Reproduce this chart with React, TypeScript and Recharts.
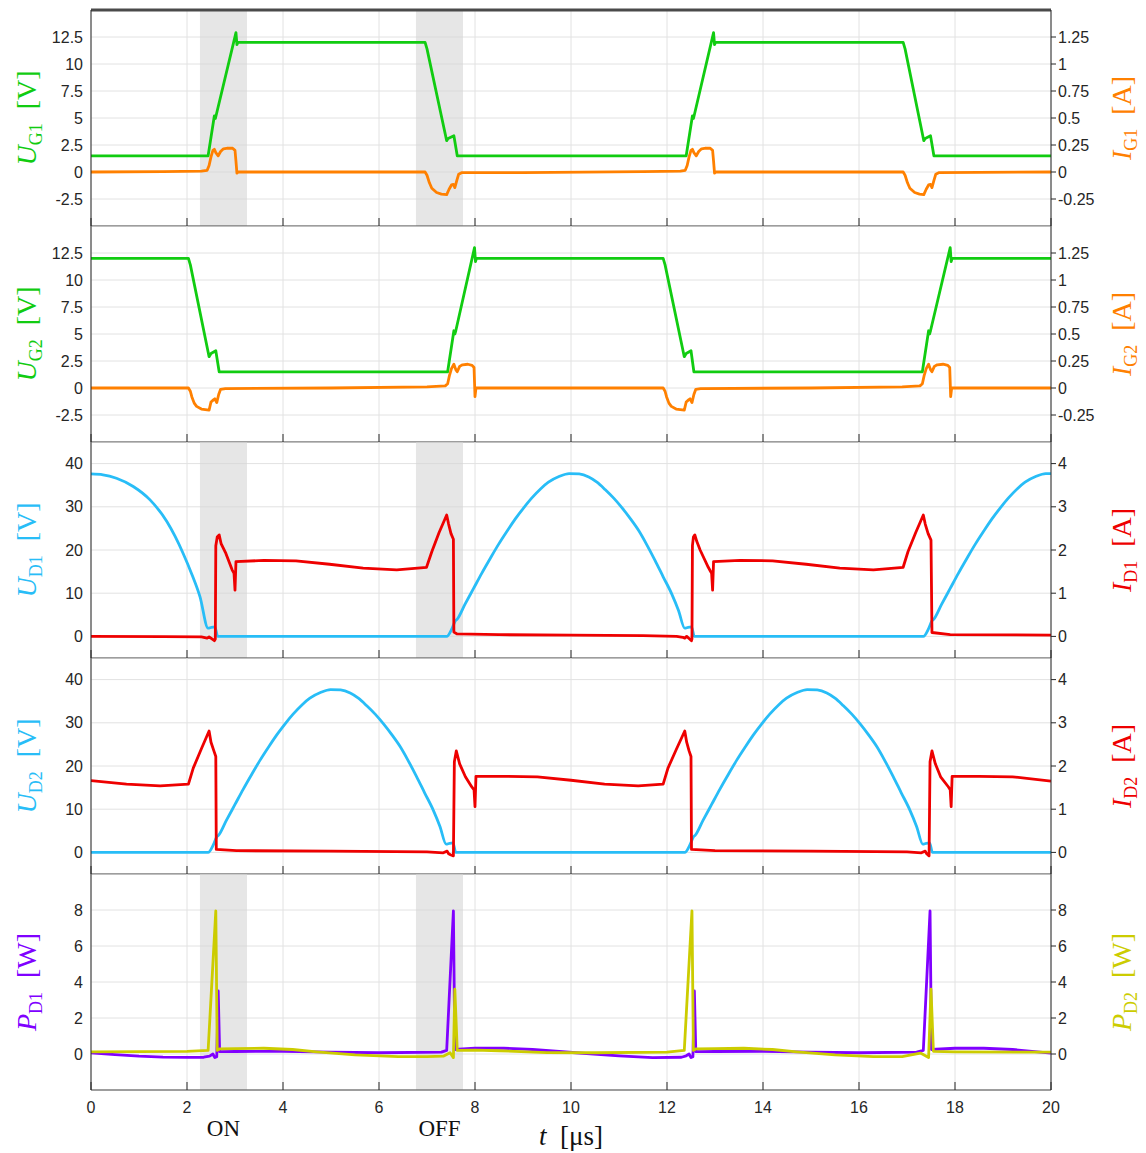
import React from 'react';
import { LineChart, Line, XAxis, YAxis, CartesianGrid, ReferenceArea, ReferenceLine } from 'recharts';

type Pt = [number, number];

// ---------- axes / ticks ----------
const T_TICKS = [0, 2, 4, 6, 8, 10, 12, 14, 16, 18, 20];
const UG_TICKS = [-2.5, 0, 2.5, 5, 7.5, 10, 12.5];
const IG_TICKS = [-0.25, 0, 0.25, 0.5, 0.75, 1, 1.25];
const UD_TICKS = [0, 10, 20, 30, 40];
const ID_TICKS = [0, 1, 2, 3, 4];
const P_TICKS = [0, 2, 4, 6, 8];
const SHADE_ON: Pt = [2.27, 3.25];
const SHADE_OFF: Pt = [6.77, 7.75];

// ---------- panel 1: gate 1 ----------
const UG1: Pt[] = [
  [0, 1.5], [2.44, 1.5], [2.57, 5.2], [2.59, 4.95], [2.61, 5.3], [3.02, 12.9], [3.04, 11.8], [3.06, 12.0],
  [6.96, 12.0], [7.0, 11.4], [7.41, 2.9], [7.44, 3.1], [7.56, 3.35], [7.63, 1.5],
  [12.4, 1.5], [12.53, 5.2], [12.55, 4.95], [12.57, 5.3], [12.97, 12.9], [12.99, 11.8], [13.01, 12.0],
  [16.92, 12.0], [16.96, 11.4], [17.35, 2.9], [17.38, 3.1], [17.49, 3.35], [17.56, 1.5], [20, 1.5],
];
const IG1: Pt[] = [
  [0, 0], [1.5, 0.004], [2.3, 0.008], [2.42, 0.016], [2.46, 0.06], [2.5, 0.14], [2.54, 0.2], [2.57, 0.21],
  [2.6, 0.18], [2.65, 0.15], [2.7, 0.19], [2.76, 0.215], [2.85, 0.222], [2.95, 0.22], [3.0, 0.2], [3.02, 0.1],
  [3.04, -0.01], [3.07, 0], [6.96, 0], [7.0, -0.03], [7.05, -0.1], [7.1, -0.15], [7.2, -0.19], [7.3, -0.205],
  [7.41, -0.21], [7.46, -0.16], [7.51, -0.12], [7.55, -0.115], [7.58, -0.145], [7.62, -0.08], [7.66, -0.02],
  [7.72, -0.006], [9, -0.005], [11.5, 0.004], [12.28, 0.008], [12.38, 0.016], [12.42, 0.06], [12.46, 0.14],
  [12.5, 0.2], [12.53, 0.21], [12.56, 0.18], [12.61, 0.15], [12.66, 0.19], [12.72, 0.215], [12.81, 0.222],
  [12.9, 0.22], [12.95, 0.2], [12.97, 0.1], [12.99, -0.01], [13.02, 0], [16.92, 0], [16.96, -0.03],
  [17.01, -0.1], [17.06, -0.15], [17.16, -0.19], [17.26, -0.205], [17.35, -0.21], [17.4, -0.16],
  [17.45, -0.12], [17.49, -0.115], [17.52, -0.145], [17.56, -0.08], [17.6, -0.02], [17.66, -0.006], [20, 0],
];

// ---------- panel 2: gate 2 ----------
const UG2: Pt[] = [
  [0, 12], [2.03, 12], [2.07, 11.4], [2.46, 2.9], [2.5, 3.2], [2.6, 3.45], [2.67, 1.5], [7.43, 1.5],
  [7.56, 5.3], [7.58, 5.0], [7.6, 5.3], [7.99, 13.0], [8.01, 11.7], [8.03, 12], [11.92, 12], [11.96, 11.4],
  [12.36, 2.9], [12.4, 3.2], [12.5, 3.45], [12.56, 1.5], [17.32, 1.5], [17.45, 5.3], [17.47, 5.0],
  [17.49, 5.3], [17.9, 13.0], [17.92, 11.7], [17.94, 12], [20, 12],
];
const IG2: Pt[] = [
  [0, 0], [2.03, 0], [2.07, -0.03], [2.1, -0.08], [2.15, -0.14], [2.2, -0.17], [2.3, -0.195], [2.46, -0.205],
  [2.5, -0.13], [2.55, -0.11], [2.58, -0.1], [2.62, -0.135], [2.66, -0.06], [2.7, -0.012], [2.8, -0.005],
  [5, 0.0], [7.0, 0.01], [7.38, 0.02], [7.43, 0.04], [7.47, 0.12], [7.51, 0.18], [7.56, 0.22], [7.6, 0.17],
  [7.63, 0.15], [7.68, 0.2], [7.74, 0.215], [7.85, 0.22], [7.94, 0.21], [7.98, 0.19], [8.0, -0.08], [8.02, 0],
  [11.92, 0], [11.96, -0.03], [11.99, -0.08], [12.04, -0.14], [12.09, -0.17], [12.19, -0.195], [12.36, -0.205],
  [12.4, -0.13], [12.45, -0.11], [12.48, -0.1], [12.52, -0.135], [12.56, -0.06], [12.6, -0.012], [12.7, -0.005],
  [15, 0.0], [16.9, 0.01], [17.27, 0.02], [17.32, 0.04], [17.36, 0.12], [17.4, 0.18], [17.45, 0.22],
  [17.49, 0.17], [17.52, 0.15], [17.57, 0.2], [17.63, 0.215], [17.75, 0.22], [17.85, 0.21], [17.89, 0.19],
  [17.91, -0.08], [17.93, 0], [20, 0],
];

// ---------- panel 3: diode 1 ----------
const UD1: Pt[] = [
  [0, 37.6], [0.25, 37.4], [0.53, 36.6], [0.88, 34.7], [1.23, 31.6], [1.58, 26.6], [1.75, 23.2], [1.92, 19.2],
  [2.1, 14.4], [2.27, 9.2], [2.44, 1.9], [2.51, 2.1], [2.58, 2.2], [2.64, 0], [7.41, 0], [7.52, 1.8],
  [7.59, 3.6], [7.63, 4.0], [7.79, 7.4], [7.97, 11.1], [8.14, 14.6], [8.32, 18.1], [8.49, 21.3], [8.67, 24.4],
  [8.84, 27.2], [9.01, 29.7], [9.18, 32.0], [9.37, 34.2], [9.53, 35.7], [9.75, 37.0], [9.96, 37.7],
  [10.17, 37.6], [10.37, 36.9], [10.54, 35.7], [10.71, 34.0], [10.89, 32.0], [11.06, 29.8], [11.24, 27.2],
  [11.41, 24.5], [11.58, 21.2], [11.75, 17.6], [11.92, 13.8], [12.1, 9.8], [12.24, 6.0], [12.37, 1.9],
  [12.44, 2.1], [12.51, 2.2], [12.57, 0], [17.34, 0], [17.45, 1.8], [17.52, 3.6], [17.56, 4.0], [17.72, 7.4],
  [17.9, 11.1], [18.07, 14.6], [18.25, 18.1], [18.42, 21.3], [18.6, 24.4], [18.77, 27.2], [18.94, 29.7],
  [19.11, 32.0], [19.3, 34.2], [19.46, 35.7], [19.68, 37.0], [19.89, 37.7], [20, 37.7],
];
const ID1: Pt[] = [
  [0, 0], [1.5, -0.005], [2.3, -0.01], [2.42, -0.04], [2.46, -0.01], [2.52, -0.06], [2.57, -0.1], [2.59, -0.06],
  [2.6, 2.1], [2.63, 2.3], [2.67, 2.35], [2.71, 2.15], [2.81, 1.92], [2.94, 1.54], [2.98, 1.46], [3.0, 1.07],
  [3.02, 1.73], [3.6, 1.76], [4.27, 1.75], [4.97, 1.67], [5.67, 1.58], [6.37, 1.54], [6.99, 1.6], [7.1, 1.96],
  [7.25, 2.4], [7.41, 2.81], [7.45, 2.6], [7.5, 2.38], [7.55, 2.25], [7.56, 0.1], [7.62, 0.06], [8.5, 0.04],
  [10, 0.03], [11.5, 0.02], [12.2, 0.0], [12.33, -0.02], [12.37, -0.04], [12.41, 0.0], [12.46, -0.05],
  [12.51, -0.1], [12.52, -0.06], [12.53, 2.1], [12.55, 2.3], [12.58, 2.35], [12.62, 2.2], [12.69, 2.0],
  [12.86, 1.6], [12.9, 1.52], [12.93, 1.46], [12.95, 1.07], [12.97, 1.73], [13.52, 1.76], [14.2, 1.75],
  [14.9, 1.67], [15.6, 1.58], [16.3, 1.54], [16.92, 1.6], [17.02, 1.96], [17.18, 2.4], [17.34, 2.81],
  [17.38, 2.6], [17.44, 2.38], [17.5, 2.23], [17.52, 0.09], [17.9, 0.04], [20, 0.03],
];

// ---------- panel 4: diode 2 ----------
const UD2: Pt[] = [
  [0, 0], [2.44, 0], [2.55, 1.8], [2.62, 3.6], [2.66, 4.0], [2.82, 7.4], [3.0, 11.1], [3.17, 14.6], [3.35, 18.1],
  [3.52, 21.3], [3.7, 24.4], [3.87, 27.2], [4.04, 29.7], [4.21, 32.0], [4.4, 34.2], [4.56, 35.7], [4.78, 37.0],
  [4.99, 37.7], [5.2, 37.6], [5.4, 36.9], [5.57, 35.7], [5.74, 34.0], [5.92, 32.0], [6.09, 29.8], [6.27, 27.2],
  [6.44, 24.5], [6.61, 21.2], [6.78, 17.6], [6.95, 13.8], [7.13, 9.8], [7.27, 6.0], [7.4, 1.9], [7.47, 2.1],
  [7.54, 2.2], [7.6, 0], [12.37, 0], [12.48, 1.8], [12.55, 3.6], [12.59, 4.0], [12.75, 7.4], [12.93, 11.1],
  [13.1, 14.6], [13.28, 18.1], [13.45, 21.3], [13.63, 24.4], [13.8, 27.2], [13.97, 29.7], [14.14, 32.0],
  [14.33, 34.2], [14.49, 35.7], [14.71, 37.0], [14.92, 37.7], [15.13, 37.6], [15.33, 36.9], [15.5, 35.7],
  [15.67, 34.0], [15.85, 32.0], [16.02, 29.8], [16.2, 27.2], [16.37, 24.5], [16.54, 21.2], [16.71, 17.6],
  [16.88, 13.8], [17.06, 9.8], [17.2, 6.0], [17.33, 1.9], [17.4, 2.1], [17.47, 2.2], [17.53, 0], [20, 0],
];
const ID2: Pt[] = [
  [0, 1.66], [0.74, 1.58], [1.44, 1.54], [2.03, 1.58], [2.13, 1.95], [2.3, 2.4], [2.46, 2.81], [2.5, 2.55],
  [2.56, 2.35], [2.6, 2.22], [2.61, 0.07], [3.03, 0.04], [5, 0.03], [7.0, 0.01], [7.34, -0.01], [7.42, 0.03],
  [7.45, -0.03], [7.5, -0.06], [7.55, -0.08], [7.57, 2.1], [7.61, 2.35], [7.68, 2.05], [7.8, 1.75],
  [7.93, 1.52], [7.98, 1.45], [8.0, 1.06], [8.02, 1.76], [8.6, 1.76], [9.3, 1.75], [10.0, 1.67], [10.7, 1.58],
  [11.4, 1.54], [11.92, 1.58], [12.02, 1.95], [12.2, 2.4], [12.37, 2.81], [12.41, 2.55], [12.46, 2.35],
  [12.5, 2.22], [12.51, 0.07], [13, 0.04], [15, 0.03], [17.0, 0.01], [17.3, -0.01], [17.38, 0.03],
  [17.41, -0.03], [17.46, -0.08], [17.48, 2.1], [17.52, 2.35], [17.59, 2.05], [17.7, 1.75], [17.86, 1.52],
  [17.9, 1.45], [17.92, 1.06], [17.94, 1.76], [18.5, 1.76], [19.2, 1.75], [20, 1.65],
];

// ---------- panel 5: losses ----------
const PD1: Pt[] = [
  [0, 0.07], [0.5, -0.03], [1.0, -0.12], [1.5, -0.17], [2.0, -0.19], [2.35, -0.18], [2.47, -0.12], [2.54, 0.0],
  [2.58, -0.2], [2.62, -0.15], [2.65, 3.5], [2.68, 0.13], [3.0, 0.14], [4.0, 0.15], [5.0, 0.1], [6.0, 0.07],
  [7.3, 0.1], [7.41, 0.2], [7.55, 7.95], [7.58, 0.25], [8.0, 0.32], [8.6, 0.32], [9.2, 0.25], [10.1, 0.07],
  [11.0, -0.1], [11.7, -0.2], [12.3, -0.18], [12.4, -0.1], [12.46, 0.0], [12.5, -0.2], [12.54, -0.15],
  [12.57, 3.5], [12.6, 0.13], [13, 0.14], [14, 0.15], [15, 0.1], [16, 0.07], [17.2, 0.1], [17.34, 0.2],
  [17.48, 7.95], [17.51, 0.25], [18, 0.32], [18.6, 0.32], [19.2, 0.25], [20, 0.05],
];
const PD2: Pt[] = [
  [0, 0.12], [1.0, 0.13], [2.0, 0.15], [2.44, 0.2], [2.6, 7.95], [2.63, 0.2], [2.68, 0.28], [3.0, 0.3],
  [3.6, 0.32], [4.2, 0.25], [4.7, 0.12], [5.5, -0.05], [6.4, -0.15], [7.0, -0.15], [7.34, -0.12], [7.48, 0.07],
  [7.55, -0.2], [7.58, 3.6], [7.63, 0.2], [8.0, 0.22], [8.5, 0.18], [9.5, 0.08], [10.5, 0.07], [12.0, 0.1],
  [12.36, 0.2], [12.52, 7.95], [12.55, 0.2], [12.6, 0.28], [13, 0.3], [13.6, 0.32], [14.2, 0.25], [14.7, 0.12],
  [15.5, -0.05], [16.3, -0.15], [16.9, -0.15], [17.28, 0.05], [17.45, -0.2], [17.5, 3.6], [17.55, 0.15],
  [18, 0.12], [20, 0.1],
];

// ---------- styling ----------
const SANS = "'Liberation Sans', Arial, Helvetica, sans-serif";
const SERIF = "'Liberation Serif', 'Times New Roman', serif";
const GREEN = '#11cc11';
const ORANGE = '#ff8000';
const BLUE = '#28bdf7';
const RED = '#ee0000';
const PURPLE = '#8000ff';
const YELLOW = '#cccc00';
const INK = '#262626';
const GRID = '#e2e2e2';
const PLOT_H = 216;
const W = 1146;

const toRows = (pts: Pt[]) => pts.map(([t, v]) => ({ t, v }));

interface Title { sym: string; sub: string; unit: string; color: string }
interface Series { data: Pt[]; color: string; axis: 'L' | 'R'; name: string; smooth?: boolean }
interface PanelProps {
  top: number;
  marginTop: number;
  xAxisHeight: number;
  leftDomain: [number, number];
  leftTicks: number[];
  rightDomain: [number, number];
  rightTicks: number[];
  leftTitle: Title;
  rightTitle: Title;
  series: Series[];
  shaded: boolean;
  topBorder?: boolean;
  bottom?: boolean;
}

const titleRenderer = (t: Title, cx: number, cy: number) => () => (
  <text
    x={cx}
    y={cy + 9}
    transform={`rotate(-90 ${cx} ${cy})`}
    textAnchor="middle"
    fill={t.color}
    fontFamily={SERIF}
  >
    <tspan fontStyle="italic" fontSize={28}>{t.sym}</tspan>
    <tspan fontSize={18} dy={6}>{t.sub}</tspan>
    <tspan fontSize={28} dy={-6}>{'\u2002[' + t.unit + ']'}</tspan>
  </text>
);

function Panel(p: PanelProps) {
  const chartH = p.marginTop + PLOT_H + p.xAxisHeight;
  const cy = p.marginTop + PLOT_H / 2;
  return (
    <div style={{ position: 'absolute', left: 0, top: p.top - p.marginTop, width: W, height: chartH }}>
      <LineChart width={W} height={chartH} margin={{ top: p.marginTop, right: 0, bottom: 0, left: 0 }}>
        <CartesianGrid yAxisId="L" stroke={GRID} strokeWidth={1} />
        {p.shaded && (
          <ReferenceArea
            yAxisId="L"
            x1={SHADE_ON[0]}
            x2={SHADE_ON[1]}
            fill="#d6d6d6"
            fillOpacity={0.6}
            stroke="none"
            label={p.bottom ? { value: 'ON', position: 'bottom', offset: 30, fill: '#111', fontSize: 23, fontFamily: SERIF } : undefined}
          />
        )}
        {p.shaded && (
          <ReferenceArea
            yAxisId="L"
            x1={SHADE_OFF[0]}
            x2={SHADE_OFF[1]}
            fill="#d6d6d6"
            fillOpacity={0.6}
            stroke="none"
            label={p.bottom ? { value: 'OFF', position: 'bottom', offset: 30, fill: '#111', fontSize: 23, fontFamily: SERIF } : undefined}
          />
        )}
        <XAxis
          type="number"
          dataKey="t"
          domain={[0, 20]}
          ticks={T_TICKS}
          interval={0}
          allowDataOverflow
          height={p.xAxisHeight}
          axisLine={{ stroke: '#4a4a4a', strokeWidth: 1.2 }}
          tickLine={{ stroke: INK }}
          tickSize={-8}
          tickMargin={p.bottom ? 20 : 0}
          tick={p.bottom ? { fill: INK, fontSize: 16, fontFamily: SANS } : { fontSize: 1, fill: 'none' }}
          tickFormatter={p.bottom ? undefined : () => ''}
          label={
            p.bottom
              ? () => (
                  <text x={571} y={271} textAnchor="middle" fill="#111" fontFamily={SERIF} fontSize={27}>
                    <tspan fontStyle="italic">t</tspan>
                    <tspan>{'\u2002[\u03bcs]'}</tspan>
                  </text>
                )
              : undefined
          }
        />
        <YAxis
          yAxisId="L"
          orientation="left"
          type="number"
          width={91}
          domain={p.leftDomain}
          ticks={p.leftTicks}
          interval={0}
          allowDataOverflow
          axisLine={{ stroke: INK }}
          tickLine={false}
          tickSize={6}
          tickMargin={2}
          tick={{ fill: INK, fontSize: 16, fontFamily: SANS }}
          label={titleRenderer(p.leftTitle, 27, cy)}
        />
        <YAxis
          yAxisId="R"
          orientation="right"
          type="number"
          width={95}
          domain={p.rightDomain}
          ticks={p.rightTicks}
          interval={0}
          allowDataOverflow
          axisLine={{ stroke: INK }}
          tickLine={{ stroke: INK }}
          tickSize={5}
          tickMargin={2}
          tick={{ fill: INK, fontSize: 16, fontFamily: SANS }}
          label={titleRenderer(p.rightTitle, 1122, cy)}
        />
        {p.topBorder && (
          <ReferenceLine yAxisId="L" y={p.leftDomain[1]} stroke="#4a4a4a" strokeWidth={3} />
        )}
        {p.series.map((s) => (
          <Line
            key={s.name}
            name={s.name}
            data={toRows(s.data)}
            dataKey="v"
            yAxisId={s.axis}
            type={s.smooth ? 'monotoneX' : 'linear'}
            stroke={s.color}
            strokeWidth={2.8}
            dot={false}
            activeDot={false}
            strokeLinejoin="round"
            isAnimationActive={false}
          />
        ))}
      </LineChart>
    </div>
  );
}

export default function App() {
  return (
    <div style={{ position: 'absolute', left: 0, top: 0, width: 1146, height: 1153, background: '#fff' }}>
      <Panel
        top={10}
        marginTop={4}
        xAxisHeight={1}
        leftDomain={[-5, 15]}
        leftTicks={UG_TICKS}
        rightDomain={[-0.5, 1.5]}
        rightTicks={IG_TICKS}
        leftTitle={{ sym: 'U', sub: 'G1', unit: 'V', color: GREEN }}
        rightTitle={{ sym: 'I', sub: 'G1', unit: 'A', color: ORANGE }}
        series={[
          { name: 'UG1', data: UG1, color: GREEN, axis: 'L' },
          { name: 'IG1', data: IG1, color: ORANGE, axis: 'R' },
        ]}
        shaded
        topBorder
      />
      <Panel
        top={226}
        marginTop={0}
        xAxisHeight={1}
        leftDomain={[-5, 15]}
        leftTicks={UG_TICKS}
        rightDomain={[-0.5, 1.5]}
        rightTicks={IG_TICKS}
        leftTitle={{ sym: 'U', sub: 'G2', unit: 'V', color: GREEN }}
        rightTitle={{ sym: 'I', sub: 'G2', unit: 'A', color: ORANGE }}
        series={[
          { name: 'UG2', data: UG2, color: GREEN, axis: 'L' },
          { name: 'IG2', data: IG2, color: ORANGE, axis: 'R' },
        ]}
        shaded={false}
      />
      <Panel
        top={442}
        marginTop={0}
        xAxisHeight={1}
        leftDomain={[-5, 45]}
        leftTicks={UD_TICKS}
        rightDomain={[-0.5, 4.5]}
        rightTicks={ID_TICKS}
        leftTitle={{ sym: 'U', sub: 'D1', unit: 'V', color: BLUE }}
        rightTitle={{ sym: 'I', sub: 'D1', unit: 'A', color: RED }}
        series={[
          { name: 'UD1', data: UD1, color: BLUE, axis: 'L', smooth: true },
          { name: 'ID1', data: ID1, color: RED, axis: 'R' },
        ]}
        shaded
      />
      <Panel
        top={658}
        marginTop={0}
        xAxisHeight={1}
        leftDomain={[-5, 45]}
        leftTicks={UD_TICKS}
        rightDomain={[-0.5, 4.5]}
        rightTicks={ID_TICKS}
        leftTitle={{ sym: 'U', sub: 'D2', unit: 'V', color: BLUE }}
        rightTitle={{ sym: 'I', sub: 'D2', unit: 'A', color: RED }}
        series={[
          { name: 'UD2', data: UD2, color: BLUE, axis: 'L', smooth: true },
          { name: 'ID2', data: ID2, color: RED, axis: 'R' },
        ]}
        shaded={false}
      />
      <Panel
        top={874}
        marginTop={0}
        xAxisHeight={63}
        leftDomain={[-2, 10]}
        leftTicks={P_TICKS}
        rightDomain={[-2, 10]}
        rightTicks={P_TICKS}
        leftTitle={{ sym: 'P', sub: 'D1', unit: 'W', color: PURPLE }}
        rightTitle={{ sym: 'P', sub: 'D2', unit: 'W', color: YELLOW }}
        series={[
          { name: 'PD1', data: PD1, color: PURPLE, axis: 'L' },
          { name: 'PD2', data: PD2, color: YELLOW, axis: 'R' },
        ]}
        shaded
        bottom
      />
    </div>
  );
}
